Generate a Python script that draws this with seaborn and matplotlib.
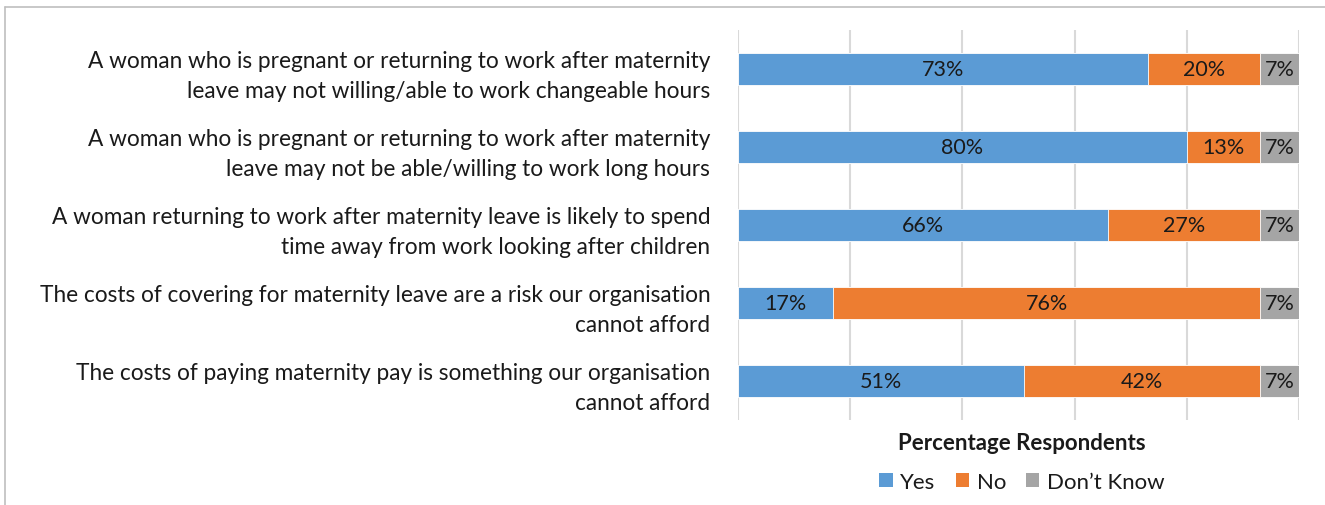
import matplotlib
matplotlib.use("Agg")
import matplotlib.pyplot as plt
from matplotlib.lines import Line2D
from matplotlib.patches import Patch
import seaborn as sns
import pandas as pd
import numpy as np

statements = [
    "A woman who is pregnant or returning to work after maternity\nleave may not willing/able to work changeable hours",
    "A woman who is pregnant or returning to work after maternity\nleave may not be able/willing to work long hours",
    "A woman returning to work after maternity leave is likely to spend\ntime away from work looking after children",
    "The costs of covering for maternity leave are a risk our organisation\ncannot afford",
    "The costs of paying maternity pay is something our organisation\ncannot afford",
]
yes = [73, 80, 66, 17, 51]
no = [20, 13, 27, 76, 42]
dont_know = [7, 7, 7, 7, 7]

series_names = ["Yes", "No", "Don\u2019t Know"]
colors = ["#5B9BD5", "#ED7D31", "#A5A5A5"]

sns.set_theme(style="white")
plt.rcParams["font.family"] = ["Lato", "DejaVu Sans"]

df = pd.DataFrame({"statement": statements, "Yes": yes, "No": no, "DK": dont_know})
df["cum_yes"] = df["Yes"]
df["cum_no"] = df["Yes"] + df["No"]
df["cum_dk"] = df["Yes"] + df["No"] + df["DK"]

fig = plt.figure(figsize=(13.25, 5.06), dpi=100)
ax = fig.add_axes([738 / 1325, 1 - 421 / 506, (1299 - 738) / 1325, (421 - 31) / 506])

# stacked bars: draw cumulative totals back to front
for col, color in zip(["cum_dk", "cum_no", "cum_yes"], colors[::-1]):
    sns.barplot(data=df, x=col, y="statement", color=color, width=0.4,
                saturation=1, edgecolor="white", linewidth=0.6, ax=ax, zorder=3)

# value labels centred in each segment
for i, row in df.iterrows():
    left = 0
    for key in ["Yes", "No", "DK"]:
        v = row[key]
        ax.text(left + v / 2, i, f"{v}%", ha="center", va="center",
                fontsize=15.5, color="#1a1a1a", zorder=5)
        left += v

ax.set_xlim(0, 100)
ax.set_xticks([0, 20, 40, 60, 80, 100])
ax.set_xticklabels([])
ax.tick_params(axis="x", length=0)
ax.tick_params(axis="y", length=0, pad=20, labelsize=16.3, labelcolor="#1a1a1a")
for lbl in ax.get_yticklabels():
    lbl.set_linespacing(1.5)
ax.grid(axis="x", color="#D9D9D9", linewidth=1.5, zorder=0)
ax.grid(axis="y", visible=False)
for s in ax.spines.values():
    s.set_visible(False)
ax.set_ylabel("")
ax.set_xlabel("")

fig.text(1022 / 1325, 1 - 444 / 506, "Percentage Respondents", ha="center", va="center",
         fontsize=16, fontweight="bold", color="#1a1a1a")

handles = [Patch(facecolor=c, edgecolor="none") for c in colors]
fig.legend(handles, series_names, loc="center", bbox_to_anchor=(1022 / 1325, 1 - 483 / 506),
           ncol=3, frameon=False, fontsize=16, handlelength=0.6, handleheight=0.6,
           handletextpad=0.35, columnspacing=0.9, labelcolor="#1a1a1a")

# outer frame
fig.add_artist(Line2D([5 / 1325, 1], [1 - 8 / 506, 1 - 8 / 506], color="#BFBFBF", linewidth=1.2))
fig.add_artist(Line2D([5 / 1325, 5 / 1325], [0, 1 - 8 / 506], color="#BFBFBF", linewidth=1.2))

fig.savefig("out.png", dpi=100)
